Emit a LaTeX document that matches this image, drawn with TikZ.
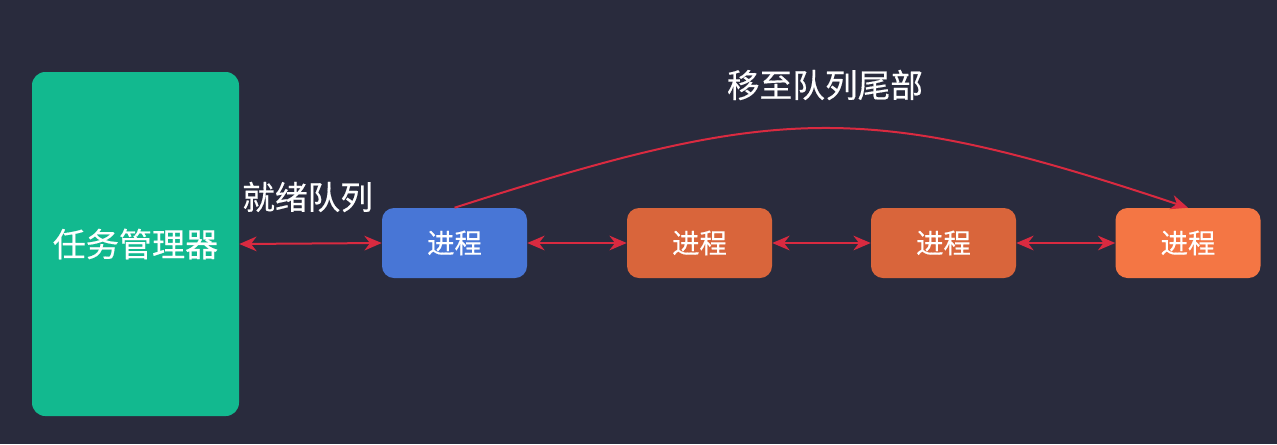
\documentclass[tikz,border=0pt]{standalone}
\usepackage{fontspec}
\setmainfont{Noto Sans CJK SC}[FakeBold=0.4]
\usetikzlibrary{arrows.meta}
\definecolor{bg}{HTML}{292B3D}
\definecolor{mgr}{HTML}{12B98F}
\definecolor{blueproc}{HTML}{4876D6}
\definecolor{orproc}{HTML}{D9653B}
\definecolor{orlast}{HTML}{F47644}
\definecolor{arr}{HTML}{D92A40}
\tikzset{
  procbox/.style={rounded corners=9pt, minimum width=108.75pt, minimum height=52.5pt, inner sep=0pt, text=white, font=\fontsize{20.5}{24}\selectfont},
  link/.style={draw=arr, line width=1.5pt, {Stealth[length=13pt,width=11pt]}-{Stealth[length=13pt,width=11pt]}},
  lbl/.style={text=white, font=\fontsize{24.5}{28}\selectfont, inner sep=0pt}
}
\begin{document}
\begin{tikzpicture}[x=0.75pt,y=-0.75pt]
\fill[bg] (0,0) rectangle (1277,444);
\useasboundingbox (0,0) rectangle (1277,444);
\node[fill=mgr, rounded corners=10pt, minimum width=155.25pt, minimum height=258pt, inner sep=0pt, text=white, font=\fontsize{24.8}{28}\selectfont] (m) at (135.5,244) {任务管理器};
\node[procbox, fill=blueproc] (p1) at (454.5,243) {进程};
\node[procbox, fill=orproc] (p2) at (699.5,243) {进程};
\node[procbox, fill=orproc] (p3) at (943.5,243) {进程};
\node[procbox, fill=orlast] (p4) at (1188,243) {进程};
\draw[link] (m.east) -- (p1.west);
\draw[link] (p1.east) -- (p2.west);
\draw[link] (p2.east) -- (p3.west);
\draw[link] (p3.east) -- (p4.west);
\draw[draw=arr, line width=1.5pt, -{Stealth[length=13pt,width=11pt]}] (p1.north) .. controls (778,104) and (865,100) .. (p4.north);
\node[lbl, anchor=west] (q) at (242,197) {就绪队列};
\node[lbl] (t) at (825,85) {移至队列尾部};
\end{tikzpicture}
\end{document}
